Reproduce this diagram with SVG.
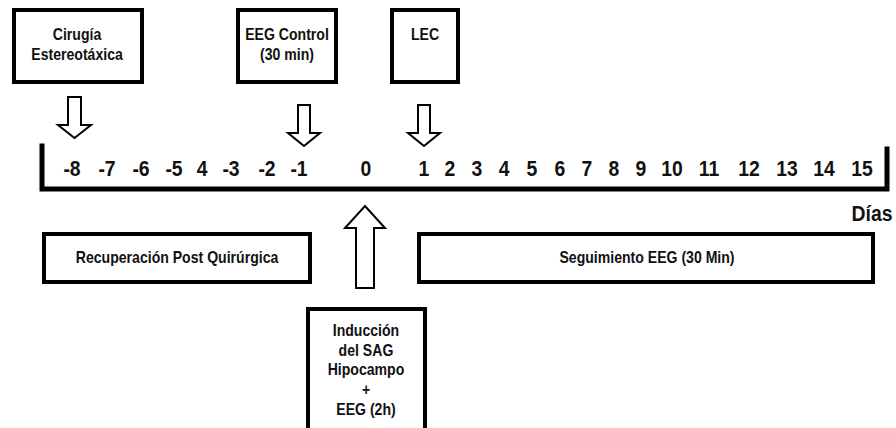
<svg xmlns="http://www.w3.org/2000/svg" width="896" height="428" viewBox="0 0 896 428">
  <style>
    .box { fill: #ffffff; stroke: #000000; stroke-width: 4; }
    .arrow { fill: #ffffff; stroke: #000000; stroke-width: 2; stroke-linejoin: miter; }
    .axis { fill: none; stroke: #000000; stroke-width: 5; stroke-linecap: square; }
    text { font-family: "Liberation Sans", Arial, sans-serif; font-weight: bold; fill: #111111; text-anchor: middle;
           transform-box: fill-box; transform-origin: center; transform: scaleX(0.88); }
    .lbl { font-size: 16px; }
    .num { font-size: 22px; }
  </style>
  <rect width="896" height="428" fill="#ffffff"/>

  <!-- event boxes above the timeline -->
  <g id="cirugia">
    <rect class="box" x="14" y="10" width="128" height="72"/>
    <text class="lbl" x="77" y="40">Cirugía</text>
    <text class="lbl" x="77" y="60">Estereotáxica</text>
  </g>
  <g id="eeg-control">
    <rect class="box" x="238" y="10" width="98" height="72"/>
    <text class="lbl" x="287" y="40">EEG Control</text>
    <text class="lbl" x="287" y="60">(30 min)</text>
  </g>
  <g id="lec">
    <rect class="box" x="392" y="10" width="66" height="72"/>
    <text class="lbl" x="425" y="40">LEC</text>
  </g>

  <!-- period boxes below the timeline -->
  <g id="recuperacion">
    <rect class="box" x="44" y="234" width="266" height="48"/>
    <text class="lbl" x="177" y="263">Recuperación Post Quirúrgica</text>
  </g>
  <g id="seguimiento">
    <rect class="box" x="419" y="234" width="454" height="48"/>
    <text class="lbl" x="647" y="263">Seguimiento EEG (30 Min)</text>
  </g>
  <g id="induccion">
    <rect class="box" x="308" y="309" width="117" height="130"/>
    <text class="lbl" x="366" y="336">Inducción</text>
    <text class="lbl" x="366" y="356">del SAG</text>
    <text class="lbl" x="366" y="375">Hipocampo</text>
    <text class="lbl" x="366" y="395">+</text>
    <text class="lbl" x="366" y="415">EEG (2h)</text>
  </g>

  <!-- timeline axis with day ticks -->
  <g id="timeline">
    <path class="axis" d="M42,146 V189 H887 V149"/>
    <g>
      <text class="num" x="72" y="176">-8</text>
      <text class="num" x="107" y="176">-7</text>
      <text class="num" x="141" y="176">-6</text>
      <text class="num" x="174" y="176">-5</text>
      <text class="num" x="202" y="176">4</text>
      <text class="num" x="231" y="176">-3</text>
      <text class="num" x="267" y="176">-2</text>
      <text class="num" x="299" y="176">-1</text>
      <text class="num" x="366" y="176">0</text>
      <text class="num" x="424" y="176">1</text>
      <text class="num" x="450" y="176">2</text>
      <text class="num" x="477" y="176">3</text>
      <text class="num" x="504" y="176">4</text>
      <text class="num" x="532" y="176">5</text>
      <text class="num" x="560" y="176">6</text>
      <text class="num" x="587" y="176">7</text>
      <text class="num" x="614" y="176">8</text>
      <text class="num" x="641" y="176">9</text>
      <text class="num" x="672" y="176">10</text>
      <text class="num" x="709" y="176">11</text>
      <text class="num" x="749" y="176">12</text>
      <text class="num" x="787" y="176">13</text>
      <text class="num" x="824" y="176">14</text>
      <text class="num" x="862" y="176">15</text>
    </g>
    <text class="num" x="872" y="221">Días</text>
  </g>

  <!-- block arrows linking events to the timeline -->
  <g id="connectors">
    <polygon class="arrow" points="68,97 81,97 81,125 91,125 74.5,138 58,125 68,125"/>
    <polygon class="arrow" points="298,105 310,105 310,133 320,133 304,146 288,133 298,133"/>
    <polygon class="arrow" points="418,105 430,105 430,133 440,133 424,146 408,133 418,133"/>
    <polygon class="arrow" points="356,288 374,288 374,228 385,228 365,206 345,228 356,228"/>
  </g>
</svg>
